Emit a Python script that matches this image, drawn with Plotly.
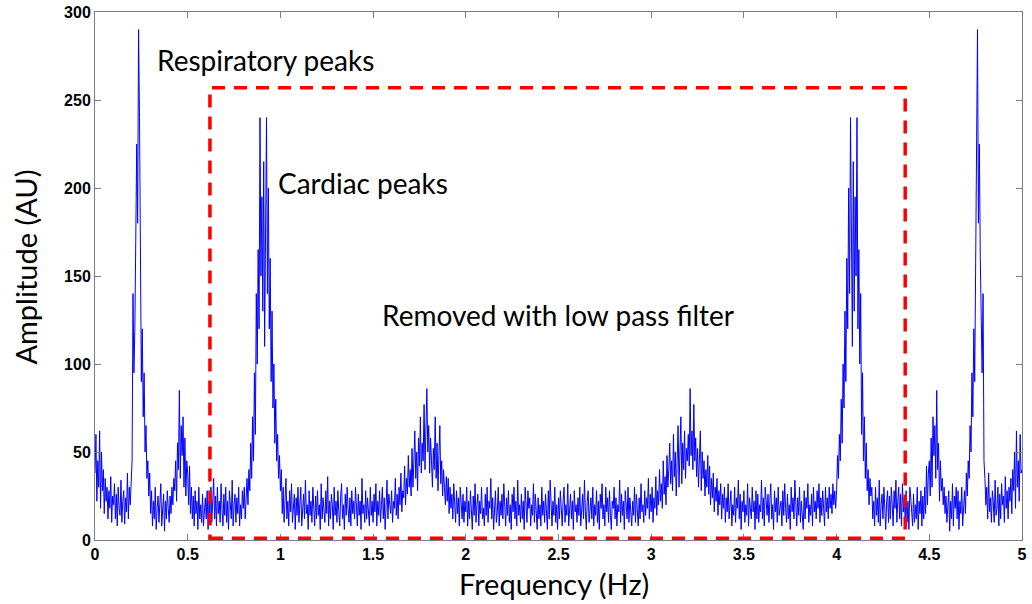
import numpy as np
import plotly.graph_objects as go

# Frequency axis: 0 to 5 Hz in 0.005 Hz bins
freq_step = 0.005
n_bins = 1001

# Spectrum amplitude (AU), one row per 0.1 Hz (20 bins per row)
amplitude = [
    38, 60, 22, 45, 30, 62, 18, 50, 28, 40, 15, 35, 22, 30, 12, 28, 18, 36, 10, 25,          # 0.0
    20, 32, 12, 26, 8, 30, 18, 14, 34, 10, 22, 28, 9, 24, 16, 38, 12, 30, 20, 35,            # 0.1
    45, 140, 95, 120, 160, 225, 180, 290, 240, 175, 90, 120, 70, 95, 50, 65, 35, 45, 25, 38, # 0.2
    15, 28, 8, 22, 12, 30, 6, 18, 25, 10, 20, 32, 8, 15, 26, 5, 22, 12, 28, 18,              # 0.3
    10, 25, 15, 30, 20, 35, 28, 45, 22, 55, 40, 85, 35, 65, 48, 70, 30, 58, 25, 45,          # 0.4
    38, 20, 42, 15, 30, 12, 25, 8, 28, 15, 22, 6, 30, 12, 20, 10, 26, 8, 18, 24,             # 0.5
    12, 28, 6, 22, 15, 30, 10, 20, 35, 12, 25, 8, 30, 15, 22, 10, 32, 18, 8, 26,             # 0.6
    14, 30, 10, 22, 6, 28, 18, 12, 34, 8, 20, 26, 10, 24, 15, 30, 8, 20, 12, 28,             # 0.7
    18, 30, 12, 25, 35, 20, 40, 28, 55, 35, 70, 45, 95, 60, 140, 100, 165, 120, 240, 150,    # 0.8
    195, 130, 215, 110, 175, 240, 140, 200, 120, 160, 90, 130, 75, 100, 55, 80, 45, 60, 35, 48,  # 0.9
    28, 40, 15, 30, 10, 25, 35, 12, 22, 8, 28, 16, 32, 10, 20, 26, 6, 24, 14, 30,            # 1.0
    10, 22, 30, 8, 18, 26, 12, 34, 15, 20, 6, 28, 14, 22, 10, 30, 18, 8, 25, 12,             # 1.1
    28, 14, 20, 6, 32, 12, 24, 18, 10, 28, 15, 36, 8, 22, 12, 26, 20, 6, 30, 14,             # 1.2
    22, 10, 28, 16, 8, 25, 32, 12, 20, 6, 26, 14, 30, 18, 10, 24, 8, 28, 15, 22,             # 1.3
    12, 30, 20, 8, 26, 14, 22, 6, 35, 15, 20, 10, 28, 12, 24, 18, 8, 30, 14, 22,             # 1.4
    10, 26, 16, 32, 8, 22, 14, 28, 10, 20, 30, 12, 24, 6, 18, 34, 12, 26, 20, 15,            # 1.5
    28, 10, 22, 18, 35, 14, 26, 12, 30, 20, 38, 16, 28, 24, 42, 20, 35, 26, 48, 30,          # 1.6
    40, 25, 52, 30, 45, 62, 35, 50, 28, 58, 42, 70, 38, 55, 45, 77, 40, 60, 86, 50,          # 1.7
    65, 38, 58, 45, 30, 52, 40, 70, 35, 55, 28, 48, 65, 32, 45, 25, 40, 30, 20, 36,          # 1.8
    22, 35, 15, 30, 18, 26, 12, 32, 20, 10, 28, 15, 24, 8, 30, 18, 12, 26, 10, 22,           # 1.9
    16, 30, 8, 22, 12, 28, 18, 6, 25, 14, 32, 10, 20, 26, 8, 22, 15, 30, 12, 18,             # 2.0
    8, 26, 14, 30, 10, 22, 18, 35, 12, 24, 6, 20, 28, 10, 16, 30, 8, 22, 14, 26,             # 2.1
    12, 32, 18, 8, 24, 14, 28, 10, 20, 6, 26, 16, 30, 12, 22, 8, 34, 14, 20, 10,             # 2.2
    26, 12, 22, 6, 30, 16, 10, 28, 18, 24, 8, 20, 14, 32, 10, 26, 18, 6, 24, 12,             # 2.3
    20, 8, 30, 14, 22, 10, 26, 16, 6, 28, 12, 34, 18, 8, 22, 14, 30, 10, 20, 6,              # 2.4
    24, 12, 28, 16, 8, 22, 30, 10, 20, 14, 32, 8, 18, 26, 12, 22, 6, 28, 16, 20,             # 2.5
    10, 24, 14, 30, 8, 20, 26, 12, 34, 16, 6, 22, 28, 10, 18, 24, 12, 30, 8, 20,             # 2.6
    14, 28, 10, 22, 6, 26, 18, 32, 12, 20, 8, 30, 16, 24, 10, 28, 14, 6, 22, 18,             # 2.7
    30, 12, 24, 8, 20, 16, 34, 10, 26, 14, 22, 6, 28, 18, 12, 30, 10, 24, 16, 8,             # 2.8
    22, 14, 30, 10, 26, 18, 8, 24, 12, 32, 16, 20, 10, 28, 14, 24, 18, 35, 12, 26,           # 2.9
    16, 30, 10, 24, 18, 36, 14, 28, 20, 40, 22, 32, 18, 45, 26, 36, 20, 48, 30, 40,          # 3.0
    55, 32, 45, 28, 60, 36, 50, 25, 40, 65, 30, 48, 70, 32, 55, 40, 62, 35, 52, 45,          # 3.1
    60, 42, 86, 48, 62, 40, 77, 45, 58, 36, 52, 30, 45, 62, 28, 50, 35, 45, 25, 40,          # 3.2
    30, 48, 26, 42, 20, 35, 24, 38, 16, 30, 22, 35, 14, 28, 20, 32, 12, 26, 18, 30,          # 3.3
    10, 24, 16, 32, 12, 22, 28, 8, 20, 14, 30, 10, 24, 18, 34, 12, 26, 6, 22, 16,            # 3.4
    28, 10, 20, 14, 32, 8, 24, 18, 12, 30, 16, 22, 6, 28, 12, 26, 10, 20, 16, 34,            # 3.5
    12, 24, 8, 30, 18, 14, 26, 10, 22, 32, 12, 20, 6, 28, 16, 24, 10, 30, 14, 20,            # 3.6
    22, 8, 28, 14, 32, 18, 10, 26, 12, 20, 6, 30, 16, 24, 12, 34, 18, 8, 24, 14,             # 3.7
    30, 10, 22, 16, 6, 28, 12, 24, 18, 32, 10, 20, 14, 26, 8, 30, 16, 22, 12, 28,            # 3.8
    18, 32, 10, 24, 14, 28, 20, 8, 30, 16, 24, 12, 30, 18, 26, 15, 32, 20, 28, 18,           # 3.9
    28, 48, 35, 60, 45, 80, 55, 100, 75, 130, 90, 160, 120, 200, 140, 240, 175, 110, 215, 130,   # 4.0
    195, 150, 240, 120, 165, 100, 140, 60, 95, 45, 70, 35, 55, 28, 40, 20, 35, 25, 30, 12,   # 4.1
    22, 8, 30, 14, 24, 10, 34, 8, 20, 26, 12, 30, 18, 6, 22, 28, 10, 25, 12, 30,             # 4.2
    20, 8, 28, 18, 34, 10, 22, 30, 12, 26, 8, 32, 16, 24, 12, 28, 10, 22, 6, 30,             # 4.3
    24, 18, 8, 26, 10, 20, 12, 30, 6, 22, 15, 28, 8, 25, 12, 30, 15, 42, 20, 38,             # 4.4
    45, 25, 58, 30, 70, 48, 65, 35, 85, 40, 55, 22, 45, 28, 35, 20, 30, 15, 25, 10,          # 4.5
    18, 28, 5, 22, 12, 32, 8, 25, 18, 30, 12, 28, 6, 22, 15, 30, 8, 20, 28, 15,              # 4.6
    38, 25, 45, 35, 65, 50, 95, 70, 120, 90, 175, 240, 290, 180, 225, 160, 120, 95, 140, 45, # 4.7
    35, 20, 30, 12, 38, 16, 24, 10, 28, 22, 10, 34, 14, 18, 30, 8, 26, 12, 32, 20,           # 4.8
    25, 10, 36, 18, 28, 12, 30, 22, 35, 15, 40, 28, 50, 18, 62, 30, 45, 22, 60, 38,          # 4.9
    40,                                                                                      # 5.0
]

frequency = np.arange(n_bins) * freq_step

# Pass band of the low pass filter (Hz) and box height (AU)
band_low, band_high, band_top = 0.62, 4.37, 257

x_ticks = [0, 0.5, 1, 1.5, 2, 2.5, 3, 3.5, 4, 4.5, 5]
x_tick_labels = ["0", "0.5", "1", "1.5", "2", "2.5", "3", "3.5", "4", "4.5", "5"]
y_ticks = [0, 50, 100, 150, 200, 250, 300]
y_tick_labels = ["0", "50", "100", "150", "200", "250", "300"]

labels = ["Respiratory peaks", "Cardiac peaks", "Removed with low pass filter"]
label_x = [0.917, 1.445, 2.495]
label_y = [273, 203, 128]

text_font = "Lato, Calibri, Carlito, sans-serif"

fig = go.Figure()
fig.add_trace(go.Scatter(
    x=frequency, y=amplitude, mode="lines",
    line=dict(color="#0000FF", width=1),
    showlegend=False, hoverinfo="skip",
))

fig.add_shape(
    type="rect", x0=band_low, x1=band_high, y0=1, y1=band_top,
    xref="x", yref="y", layer="above",
    line=dict(color="#FF0000", width=3.5, dash="13px,9px"),
    fillcolor="rgba(0,0,0,0)",
)

for txt, lx, ly in zip(labels, label_x, label_y):
    fig.add_annotation(
        x=lx, y=ly, xref="x", yref="y", text=txt, showarrow=False,
        font=dict(family=text_font, size=28, color="#000000"),
    )

# Axis titles
fig.add_annotation(
    x=0.495, y=-0.082, xref="paper", yref="paper", text="Frequency (Hz)",
    showarrow=False, xanchor="center", yanchor="middle",
    font=dict(family=text_font, size=29, color="#000000"),
)
fig.add_annotation(
    x=-0.076, y=0.517, xref="paper", yref="paper", text="Amplitude (AU)",
    showarrow=False, xanchor="center", yanchor="middle", textangle=-90,
    font=dict(family=text_font, size=29, color="#000000"),
)

axis_common = dict(
    showline=True, linecolor="#7f7f7f", linewidth=1, mirror="ticks",
    ticks="inside", ticklen=6, tickcolor="#7f7f7f", showgrid=False,
    zeroline=False, automargin=False,
    tickfont=dict(family="Liberation Sans, Arial, sans-serif", size=16,
                  color="#000000", weight="bold"),
)

fig.update_xaxes(range=[0, 5], tickvals=x_ticks, ticktext=x_tick_labels, **axis_common)
fig.update_yaxes(range=[0, 300], tickvals=y_ticks, ticktext=y_tick_labels, **axis_common)

fig.update_layout(
    width=1032, height=604,
    margin=dict(l=95, r=10, t=12, b=64, autoexpand=False),
    plot_bgcolor="#FFFFFF", paper_bgcolor="#FFFFFF",
)

fig.write_html("out.html")
